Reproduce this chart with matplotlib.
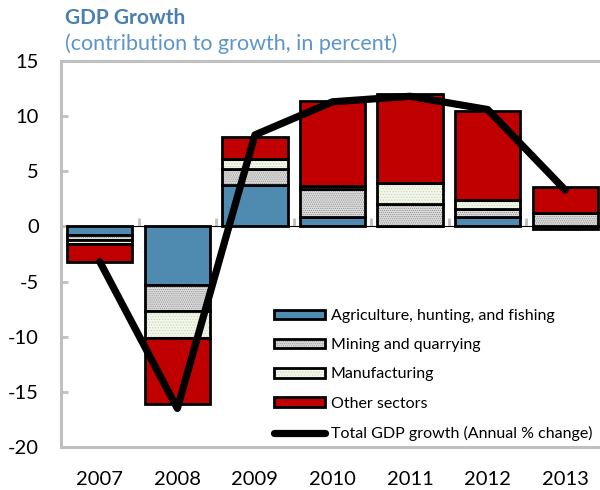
import matplotlib
matplotlib.use("agg")
import matplotlib.pyplot as plt
import numpy as np

years = ["2007", "2008", "2009", "2010", "2011", "2012", "2013"]
agriculture = [-0.8, -5.3, 3.8, 0.9, 0.0, 0.9, -0.2]
mining = [-0.4, -2.4, 1.4, 2.5, 2.0, 0.7, 1.2]
manufacturing = [-0.4, -2.4, 0.9, 0.3, 1.9, 0.8, 0.0]
other = [-1.6, -6.0, 2.0, 7.7, 8.1, 8.1, 2.4]
total_growth = [-3.2, -16.5, 8.3, 11.3, 11.8, 10.6, 3.3]

series_labels = [
    "Agriculture, hunting, and fishing",
    "Mining and quarrying",
    "Manufacturing",
    "Other sectors",
]
line_label = "Total GDP growth (Annual % change)"

y_ticks = [-20, -15, -10, -5, 0, 5, 10, 15]

FONT = ["Lato", "DejaVu Sans"]
GRID_GRAY = "#c0c0c0"
plt.rcParams["font.family"] = FONT
plt.rcParams["hatch.linewidth"] = 0.5


def stack_bars(axis, x, layers, styles, width):
    pos_base = np.zeros(len(x))
    neg_base = np.zeros(len(x))
    handles = []
    for values, style in zip(layers, styles):
        values = np.asarray(values, dtype=float)
        bottoms = np.where(values >= 0, pos_base, neg_base)
        # fill (and fine hatch in its own colour), then a black outline on top
        fill = axis.bar(x, values, width, bottom=bottoms, linewidth=0,
                        zorder=2, **style)
        outline = axis.bar(x, values, width, bottom=bottoms, fill=False,
                           edgecolor="black", linewidth=2.0, zorder=2)
        handles.append((fill, outline))
        pos_base += np.clip(values, 0, None)
        neg_base += np.clip(values, None, 0)
    return handles


fig = plt.figure(figsize=(6.0, 4.9), dpi=100)
ax = fig.add_axes([61 / 600, 43 / 490, 543 / 600, 386 / 490])

x = np.arange(len(years))
styles = [
    {"facecolor": "#4f8bb0"},
    {"facecolor": "#dcdcdc", "hatch": "........", "edgecolor": "#8c8c8c"},
    {"facecolor": "#f1f6e8", "hatch": "......", "edgecolor": "#c9d3bb"},
    {"facecolor": "#c00000"},
]
handles = stack_bars(
    ax, x, [agriculture, mining, manufacturing, other], styles, 0.84
)

(line,) = ax.plot(
    x, total_growth, color="black", linewidth=5.2,
    solid_capstyle="round", zorder=3
)

ymin, ymax = y_ticks[0], y_ticks[-1]
ax.set_xlim(-0.5, len(years) - 0.5)
ax.set_ylim(ymin, ymax)
ax.set_yticks(y_ticks)
ax.set_yticklabels([str(v) for v in y_ticks])
ax.set_xticks(x)
ax.set_xticklabels(years)

for side in ("left", "top", "bottom"):
    ax.spines[side].set_color(GRID_GRAY)
    ax.spines[side].set_linewidth(2.2)
ax.spines["right"].set_visible(False)

ax.tick_params(axis="y", direction="in", length=5, width=2.0,
               color=GRID_GRAY, pad=16, labelsize=14.5)
ax.tick_params(axis="x", length=0, pad=17, labelsize=14.5)

# category axis crossing at zero, with ticks between categories
zero_axis = ax.secondary_xaxis((0 - ymin) / (ymax - ymin))
zero_axis.spines["bottom"].set_color(GRID_GRAY)
zero_axis.spines["bottom"].set_linewidth(2.2)
zero_axis.set_xticks(x[:-1] + 0.5)
zero_axis.set_xticklabels([])
zero_axis.tick_params(direction="out", length=6, width=2.0, color=GRID_GRAY)

ax.legend(
    handles + [line], series_labels + [line_label],
    loc="upper left", bbox_to_anchor=(274 / 600, 1 - 309 / 490),
    bbox_transform=fig.transFigure, frameon=False, fontsize=11.5,
    handlelength=3.2, handleheight=0.55, handletextpad=0.36,
    labelspacing=0.95, borderaxespad=0, borderpad=0,
)

fig.text(65 / 600, 1 - 24 / 490, "GDP Growth", fontsize=15,
         fontweight="bold", color="#4a7fb0", va="baseline")
fig.text(65 / 600, 1 - 50 / 490, "(contribution to growth, in percent)",
         fontsize=15.5, color="#5b95c9", va="baseline")

fig.savefig("out.png", dpi=100)
